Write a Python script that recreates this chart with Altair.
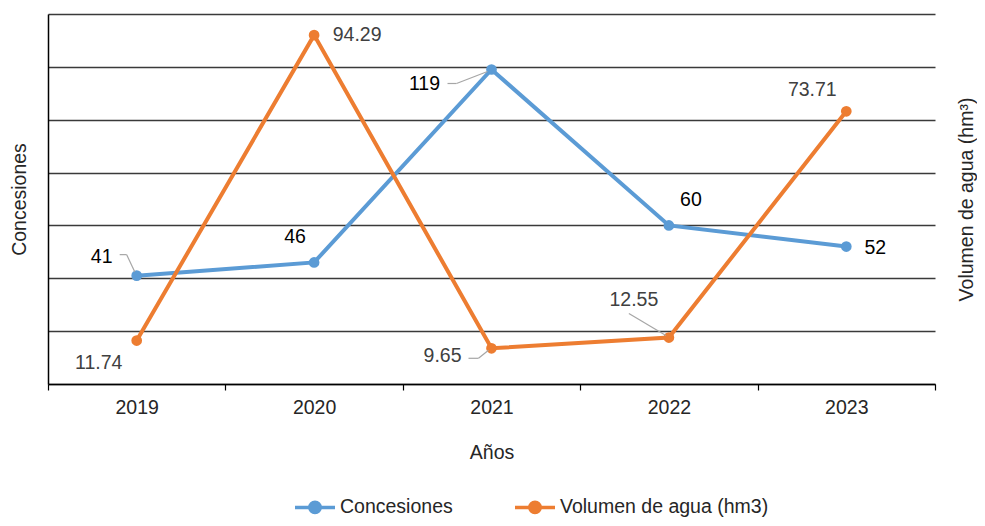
import altair as alt
import pandas as pd

years = ["2019", "2020", "2021", "2022", "2023"]
concesiones = [41, 46, 119, 60, 52]
volumen = [11.74, 94.29, 9.65, 12.55, 73.71]
conc_labels = ["41", "46", "119", "60", "52"]
vol_labels = ["11.74", "94.29", "9.65", "12.55", "73.71"]
series = ["Concesiones", "Volumen de agua (hm3)"]
colors = ["#5B9BD5", "#ED7D31"]

# label offsets in px relative to each point
conc_offsets = [(-35, -19), (-19, -25), (-67, 14), (22, -25), (29, 1)]
vol_offsets = [(-38, 22), (43, 0), (-49, 8), (-35, -38), (-34, -21)]
# leader line segments (x1, y1, x2, y2) in px relative to point
conc_leaders = {"2019": [(-17, -21, -10, -21), (-10, -21, -2, -4)],
                "2021": [(-44, 14, -35, 14), (-35, 14, -4, 2)]}
vol_leaders = {"2021": [(-23, 10, -13, 10), (-13, 10, -3, 2)],
               "2022": [(-40, -24, -3, -2)]}

FONT = "Liberation Sans"
FS = 19.5
W, H = 887, 370
TXT = "#262626"

df_c = pd.DataFrame({"year": years, "value": concesiones, "series": series[0], "label": conc_labels})
df_v = pd.DataFrame({"year": years, "value": volumen, "series": series[1], "label": vol_labels})

x_enc = alt.X(
    "year:N", title="Años", bandPosition=0.5,
    scale=alt.Scale(type="band", paddingInner=0, paddingOuter=0),
    axis=alt.Axis(labelAngle=0, tickBand="extent", tickSize=6, labelPadding=8, titlePadding=27,
                  domainColor="#000000", domainWidth=1.5, tickColor="#000000", tickWidth=1.2,
                  labelFontSize=FS, titleFontSize=FS, labelColor=TXT, titleColor=TXT,
                  labelFont=FONT, titleFont=FONT, titleFontWeight="normal", grid=False),
)
x2_enc = alt.X2("year", bandPosition=0.5)

y_left = alt.Y(
    "value:Q", scale=alt.Scale(domain=[0, 140], nice=False),
    axis=alt.Axis(title="Concesiones", values=list(range(0, 141, 20)), labels=False, ticks=False,
                  grid=True, gridColor="#3a3a3a", gridWidth=1.3, domainColor="#000000", domainWidth=1.5,
                  titleFontSize=FS, titleFont=FONT, titleFontWeight="normal", titleColor=TXT,
                  titlePadding=19),
)
y_right = alt.Y(
    "value:Q", scale=alt.Scale(domain=[0, 100], nice=False),
    axis=alt.Axis(orient="right", title="Volumen de agua (hm³)", labels=False, ticks=False, grid=False,
                  domain=False, titleAngle=-90, titleBaseline="top", titlePadding=22,
                  titleFontSize=FS, titleFont=FONT, titleFontWeight="normal", titleColor=TXT),
)

LEG_PATH = ("M-1,0H1"
            "M-0.26,0A0.26,0.26,0,1,0,0.26,0A0.26,0.26,0,1,0,-0.26,0"
            "M-0.17,0A0.17,0.17,0,1,0,0.17,0A0.17,0.17,0,1,0,-0.17,0"
            "M-0.08,0A0.08,0.08,0,1,0,0.08,0A0.08,0.08,0,1,0,-0.08,0")

color_enc = alt.Color(
    "series:N", scale=alt.Scale(domain=series, range=colors),
    legend=alt.Legend(title=None, orient="none", legendX=245, legendY=471, direction="horizontal",
                      symbolType=LEG_PATH, symbolSize=1600, symbolStrokeWidth=3.5,
                      labelFontSize=FS, labelFont=FONT, labelColor=TXT, labelOffset=3, labelLimit=0,
                      columnPadding=55, padding=0),
)


def group(df, y_enc, offsets, leaders, label_color):
    base = alt.Chart(df)
    layers = [
        base.mark_line(strokeWidth=4).encode(x=x_enc, y=y_enc, color=color_enc),
        base.mark_point(filled=True, size=115, opacity=1).encode(x=x_enc, y=y_enc, color=color_enc),
    ]
    for yr, segs in leaders.items():
        for (a, b, c, d) in segs:
            layers.append(
                base.transform_filter(alt.datum.year == yr)
                .mark_rule(color="#A6A6A6", strokeWidth=1.2, xOffset=a, yOffset=b, x2Offset=c, y2Offset=d)
                .encode(x=x_enc, x2=x2_enc, y=y_enc, y2=alt.Y2("value"))
            )
    for yr, (dx, dy) in zip(years, offsets):
        layers.append(
            base.transform_filter(alt.datum.year == yr)
            .mark_text(dx=dx, dy=dy, font=FONT, fontSize=FS, color=label_color, baseline="middle", align="center")
            .encode(x=x_enc, y=y_enc, text="label:N")
        )
    return alt.layer(*layers)


left = group(df_c, y_left, conc_offsets, conc_leaders, "#000000")
right = group(df_v, y_right, vol_offsets, vol_leaders, "#404040")

chart = (
    alt.layer(left, right)
    .resolve_scale(y="independent")
    .properties(width=W, height=H, autosize=alt.AutoSizeParams(type="none"),
                padding={"left": 40, "top": 6, "right": 42, "bottom": 135}, background="white")
    .configure_view(stroke=None)
)

chart.save("out.html", embed_options={"renderer": "svg", "actions": False})
